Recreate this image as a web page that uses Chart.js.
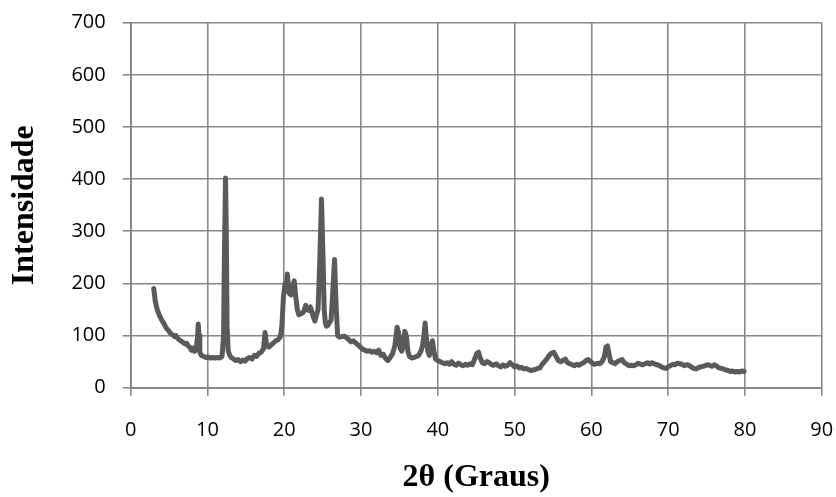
<!DOCTYPE html>
<html>
<head>
<meta charset="utf-8">
<script src="https://cdn.jsdelivr.net/npm/chart.js@4"></script>
<style>
  body { margin: 0; background: #fff; }
</style>
</head>
<body>
<canvas id="xrd" width="836" height="497"></canvas>
<script>
const twoTheta = [
  3.0, 3.1, 3.2, 3.35, 3.5, 3.7, 3.9, 4.1, 4.3, 4.5, 4.7, 4.9, 5.1, 5.3, 5.5, 5.7, 5.9, 6.1, 6.3, 6.5,
  6.7, 6.9, 7.1, 7.3, 7.5, 7.7, 7.9, 8.1, 8.3, 8.5, 8.7, 8.8, 8.9, 9.0, 9.2, 9.5, 9.8, 10.1, 10.4, 10.7,
  11.0, 11.3, 11.6, 11.9, 12.1, 12.2, 12.35, 12.45, 12.55, 12.7, 12.9, 13.1, 13.4, 13.7, 14.0, 14.3, 14.6, 14.9, 15.2, 15.5,
  15.8, 16.1, 16.4, 16.7, 17.0, 17.3, 17.5, 17.7, 18.0, 18.3, 18.6, 18.9, 19.2, 19.5, 19.7, 19.9, 20.1, 20.25, 20.4, 20.55,
  20.7, 20.9, 21.1, 21.3, 21.5, 21.7, 21.9, 22.2, 22.5, 22.8, 23.0, 23.2, 23.4, 23.6, 23.8, 24.0, 24.2, 24.4, 24.6, 24.85,
  25.05, 25.2, 25.35, 25.5, 25.7, 25.9, 26.1, 26.3, 26.55, 26.75, 26.95, 27.2, 27.5, 27.8, 28.1, 28.4, 28.7, 29.0, 29.3, 29.6,
  29.9, 30.2, 30.5, 30.8, 31.1, 31.4, 31.7, 32.0, 32.3, 32.6, 32.9, 33.2, 33.5, 33.8, 34.1, 34.4, 34.7, 34.9, 35.1, 35.3,
  35.5, 35.7, 35.9, 36.1, 36.3, 36.6, 36.9, 37.2, 37.5, 37.8, 38.0, 38.2, 38.35, 38.5, 38.7, 38.9, 39.1, 39.3, 39.5, 39.7,
  40.0, 40.3, 40.6, 40.9, 41.2, 41.5, 41.8, 42.1, 42.4, 42.7, 43.0, 43.3, 43.6, 43.9, 44.2, 44.5, 44.8, 45.1, 45.3, 45.5,
  45.8, 46.1, 46.4, 46.7, 47.0, 47.3, 47.6, 47.9, 48.2, 48.5, 48.8, 49.1, 49.4, 49.7, 50.0, 50.3, 50.6, 50.9, 51.2, 51.5,
  51.8, 52.1, 52.4, 52.7, 53.0, 53.3, 53.6, 53.9, 54.2, 54.5, 54.8, 55.1, 55.4, 55.7, 56.0, 56.3, 56.6, 56.9, 57.2, 57.5,
  57.8, 58.1, 58.4, 58.7, 59.0, 59.3, 59.6, 59.9, 60.2, 60.5, 60.8, 61.1, 61.4, 61.7, 61.9, 62.1, 62.3, 62.5, 62.8, 63.1,
  63.4, 63.7, 64.0, 64.3, 64.6, 64.9, 65.2, 65.5, 65.8, 66.1, 66.4, 66.7, 67.0, 67.3, 67.6, 67.9, 68.2, 68.5, 68.8, 69.1,
  69.4, 69.7, 70.0, 70.3, 70.6, 70.9, 71.2, 71.5, 71.8, 72.1, 72.4, 72.7, 73.0, 73.3, 73.6, 73.9, 74.2, 74.5, 74.8, 75.1,
  75.4, 75.7, 76.0, 76.3, 76.6, 76.9, 77.2, 77.5, 77.8, 78.1, 78.4, 78.7, 79.0, 79.3, 79.6, 79.9
];
const intensity = [
  190, 178, 166, 156, 148, 140, 134, 128, 124, 118, 113, 110, 106, 103, 101, 98, 100, 95, 92, 90,
  88, 86, 84, 85, 80, 78, 72, 76, 70, 73, 95, 122, 100, 68, 62, 60, 58, 59, 57, 58,
  57, 58, 57, 60, 100, 250, 402, 300, 120, 70, 62, 58, 55, 52, 54, 50, 53, 51, 56, 58,
  55, 62, 60, 66, 68, 75, 106, 80, 78, 82, 86, 90, 92, 98, 120, 175, 200, 185, 218, 195,
  180, 178, 195, 205, 175, 150, 140, 142, 145, 158, 150, 148, 155, 145, 135, 128, 140, 150, 230, 362,
  250, 150, 125, 118, 120, 125, 130, 180, 246, 160, 100, 97, 98, 99, 96, 92, 88, 90, 86, 82,
  78, 74, 72, 70, 71, 68, 70, 67, 72, 62, 64, 56, 52, 58, 65, 80, 116, 105, 75, 70,
  80, 108, 100, 70, 60, 57, 58, 60, 62, 70, 80, 100, 124, 95, 70, 62, 80, 90, 70, 55,
  52, 50, 48, 46, 48, 45, 50, 45, 43, 47, 44, 42, 45, 43, 46, 44, 55, 66, 68, 58,
  48, 46, 50, 48, 44, 43, 46, 42, 40, 44, 41, 43, 48, 44, 40, 42, 38, 39, 36, 37,
  35, 33, 34, 35, 37, 38, 45, 50, 55, 62, 66, 68, 60, 52, 50, 52, 55, 48, 46, 44,
  42, 45, 43, 46, 48, 52, 54, 50, 46, 45, 47, 46, 50, 60, 78, 80, 65, 50, 48, 46,
  50, 52, 54, 48, 45, 42, 43, 42, 44, 47, 45, 44, 46, 48, 45, 48, 46, 44, 43, 40,
  38, 37, 40, 42, 45, 44, 47, 46, 45, 42, 44, 43, 40, 37, 36, 38, 40, 41, 42, 44,
  43, 41, 44, 42, 38, 37, 36, 34, 33, 31, 32, 30, 31, 30, 32, 31
];
const xTicks = [0, 90, 10];   // min, max, passo
const yTicks = [0, 700, 100];

const points = twoTheta.map((t, i) => ({ x: t, y: intensity[i] }));

const gridGray = '#888888';
const tickFont = { family: 'Open Sans', size: 20 };
const titleFont = { family: 'Liberation Serif', size: 32, weight: 'bold' };

// zera o "padding" automático das escalas, o layout.padding manda
function noEdgePad(s) {
  s.paddingLeft = 0; s.paddingRight = 0; s.paddingTop = 0; s.paddingBottom = 0;
}

new Chart(document.getElementById('xrd'), {
  type: 'scatter',
  data: {
    datasets: [{
      data: points,
      showLine: true,
      borderColor: '#5a5a5a',
      borderWidth: 5,
      borderJoinStyle: 'round',
      borderCapStyle: 'round',
      pointRadius: 0,
      tension: 0
    }]
  },
  options: {
    responsive: false,
    animation: false,
    layout: { padding: { top: 22.7, right: 14.3, left: 0, bottom: 0 } },
    plugins: { legend: { display: false }, tooltip: { enabled: false } },
    scales: {
      x: {
        type: 'linear',
        min: xTicks[0], max: xTicks[1],
        ticks: { stepSize: xTicks[2], color: '#000', font: tickFont, padding: 23, maxRotation: 0 },
        grid: { color: gridGray, lineWidth: 1.6, tickLength: 8, tickColor: gridGray },
        border: { color: gridGray, width: 2 },
        title: { display: true, text: '2θ (Graus)', color: '#000', font: titleFont, padding: { top: 0, bottom: 0 } },
        afterFit: s => { s.height = 109.3; noEdgePad(s); }
      },
      y: {
        min: yTicks[0], max: yTicks[1],
        ticks: { stepSize: yTicks[2], color: '#000', font: tickFont, padding: 17 },
        grid: { color: gridGray, lineWidth: 1.6, tickLength: 8, tickColor: gridGray },
        border: { color: gridGray, width: 2 },
        title: { display: true, text: 'Intensidade', color: '#000', font: titleFont, padding: { top: 6, bottom: 0 } },
        afterFit: s => { s.width = 130.7; noEdgePad(s); }
      }
    }
  }
});
</script>
</body>
</html>
